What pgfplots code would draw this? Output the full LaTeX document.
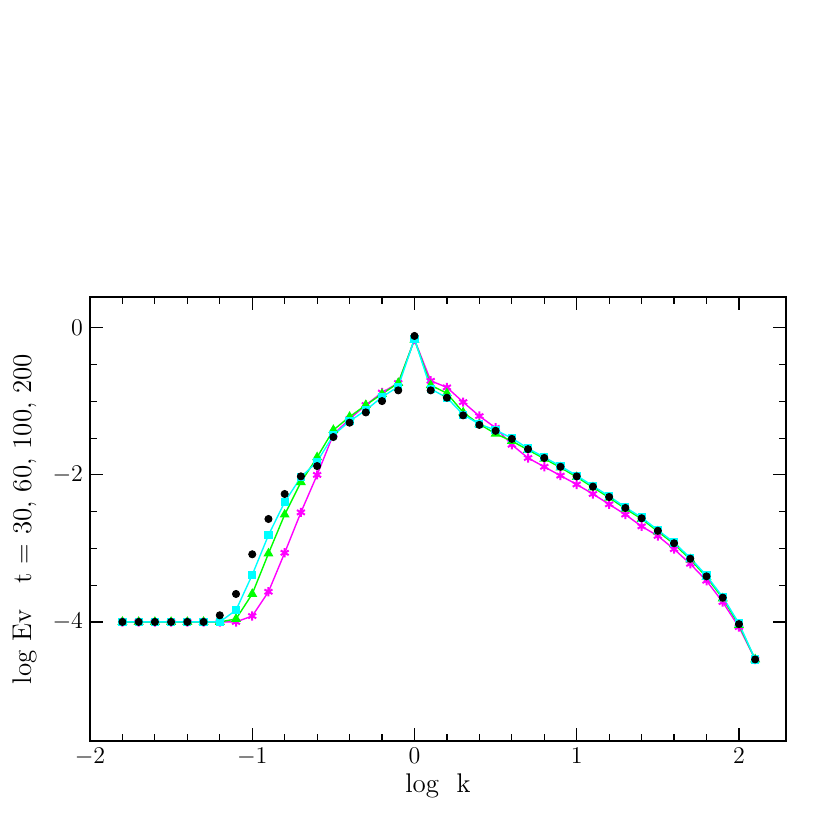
\documentclass[border=0pt]{standalone}
\usepackage{pgfplots}
\pgfplotsset{compat=1.18}
\definecolor{pmag}{rgb}{1,0,1}
\definecolor{pcyan}{rgb}{0,1,1}
\definecolor{pgreen}{rgb}{0,1,0}
\begin{document}
\begin{tikzpicture}
\begin{axis}[
  at={(0pt,0pt)}, anchor=south west,
  scale only axis, width=348pt, height=222pt,
  xmin=-2, xmax=2.29, ymin=-5.62, ymax=0.42,
  xtick={-2,-1,0,1,2}, minor x tick num=4,
  ytick={-4,-2,0}, minor y tick num=3,
  tick align=inside, major tick length=6.5pt, minor tick length=3.5pt,
  tick style={black, line width=0.6pt},
  axis line style={line width=0.8pt},
  ticklabel style={font=\large},
  label style={font=\fontsize{13.5}{16}\selectfont},
  xlabel={log\ \ k}, ylabel={log Ev\ \ \ t = 30, 60, 100, 200},
  xlabel style={yshift=3pt},
  ylabel style={yshift=1pt},
]
\addplot[pmag, line width=0.7pt, mark=asterisk, mark size=2.3pt, mark options={line width=1pt}] coordinates {
(-1.8,-4.0) (-1.7,-4.0) (-1.6,-4.0) (-1.5,-4.0) (-1.4,-4.0) (-1.3,-4.0) (-1.2,-4.0) (-1.1,-4.0)
(-1.0,-3.92) (-0.9,-3.59) (-0.8,-3.06) (-0.7,-2.51) (-0.6,-2.00) (-0.5,-1.45) (-0.4,-1.24)
(-0.3,-1.05) (-0.2,-0.88) (-0.1,-0.75) (0.0,-0.16) (0.1,-0.72) (0.2,-0.81) (0.3,-1.01)
(0.4,-1.20) (0.5,-1.36) (0.6,-1.59) (0.7,-1.77) (0.8,-1.89) (0.9,-2.01) (1.0,-2.13)
(1.1,-2.26) (1.2,-2.40) (1.3,-2.54) (1.4,-2.70) (1.5,-2.83) (1.6,-3.01) (1.7,-3.21)
(1.8,-3.44) (1.9,-3.73) (2.0,-4.07) (2.1,-4.51)
};
\addplot[pgreen, line width=0.7pt, mark=triangle*, mark size=2.2pt] coordinates {
(-1.8,-4.0) (-1.7,-4.0) (-1.6,-4.0) (-1.5,-4.0) (-1.4,-4.0) (-1.3,-4.0) (-1.2,-4.0) (-1.1,-3.96)
(-1.0,-3.62) (-0.9,-3.07) (-0.8,-2.54) (-0.7,-2.10) (-0.6,-1.76) (-0.5,-1.39) (-0.4,-1.21)
(-0.3,-1.05) (-0.2,-0.90) (-0.1,-0.75) (0.0,-0.16) (0.1,-0.78) (0.2,-0.89) (0.3,-1.15)
(0.4,-1.31) (0.5,-1.44) (0.6,-1.54) (0.7,-1.66) (0.8,-1.78) (0.9,-1.90) (1.0,-2.03)
(1.1,-2.17) (1.2,-2.31) (1.3,-2.46) (1.4,-2.60) (1.5,-2.77) (1.6,-2.94) (1.7,-3.15)
(1.8,-3.39) (1.9,-3.68) (2.0,-4.04) (2.1,-4.51)
};
\addplot[pcyan, line width=0.7pt, mark=square*, mark size=1.7pt] coordinates {
(-1.8,-4.0) (-1.7,-4.0) (-1.6,-4.0) (-1.5,-4.0) (-1.4,-4.0) (-1.3,-4.0) (-1.2,-4.0) (-1.1,-3.84)
(-1.0,-3.36) (-0.9,-2.82) (-0.8,-2.37) (-0.7,-2.03) (-0.6,-1.82) (-0.5,-1.46) (-0.4,-1.27)
(-0.3,-1.12) (-0.2,-0.94) (-0.1,-0.80) (0.0,-0.15) (0.1,-0.83) (0.2,-0.95) (0.3,-1.18)
(0.4,-1.31) (0.5,-1.39) (0.6,-1.50) (0.7,-1.64) (0.8,-1.76) (0.9,-1.88) (1.0,-2.01)
(1.1,-2.15) (1.2,-2.29) (1.3,-2.44) (1.4,-2.58) (1.5,-2.75) (1.6,-2.92) (1.7,-3.13)
(1.8,-3.37) (1.9,-3.66) (2.0,-4.02) (2.1,-4.51)
};
\addplot[black, only marks, mark=*, mark size=1.8pt] coordinates {
(-1.8,-4.0) (-1.7,-4.0) (-1.6,-4.0) (-1.5,-4.0) (-1.4,-4.0) (-1.3,-4.0) (-1.2,-3.91) (-1.1,-3.62)
(-1.0,-3.08) (-0.9,-2.60) (-0.8,-2.26) (-0.7,-2.02) (-0.6,-1.88) (-0.5,-1.485) (-0.4,-1.29)
(-0.3,-1.15) (-0.2,-0.996) (-0.1,-0.85) (0.0,-0.11) (0.1,-0.85) (0.2,-0.95) (0.3,-1.19)
(0.4,-1.32) (0.5,-1.40) (0.6,-1.51) (0.7,-1.65) (0.8,-1.77) (0.9,-1.89) (1.0,-2.02)
(1.1,-2.16) (1.2,-2.30) (1.3,-2.45) (1.4,-2.59) (1.5,-2.76) (1.6,-2.93) (1.7,-3.14)
(1.8,-3.38) (1.9,-3.67) (2.0,-4.03) (2.1,-4.51)
};
\end{axis}
\pgfresetboundingbox
\path[use as bounding box] (-45pt,-44.5pt) rectangle (370pt,370.5pt);
\end{tikzpicture}
\end{document}
